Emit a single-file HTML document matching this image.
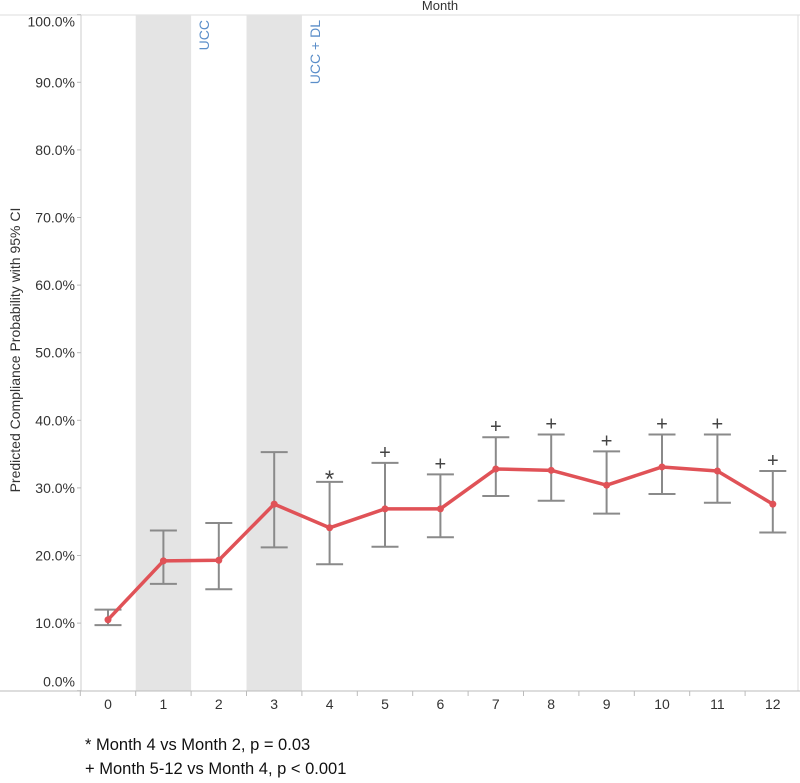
<!DOCTYPE html>
<html><head><meta charset="utf-8"><style>
body{margin:0;background:#fff;font-family:"Liberation Sans",sans-serif}
svg text{font-family:"Liberation Sans",sans-serif}
</style></head><body>
<svg width="800" height="778" xmlns="http://www.w3.org/2000/svg" id="chart">
<text x="440" y="10" font-size="13" fill="#333" text-anchor="middle">Month</text>
<line x1="0" y1="15" x2="800" y2="15" stroke="#ddd"/>
<g id="bands"></g><g id="yaxis"></g><g id="xaxis"></g><g id="series"></g>
<text x="209" y="20" font-size="14" fill="#5b8ec9" transform="rotate(-90 209 20)" text-anchor="end">UCC</text>
<text x="320" y="20" font-size="14" fill="#5b8ec9" transform="rotate(-90 320 20)" text-anchor="end">UCC + DL</text>
<text x="20" y="350" font-size="14" fill="#333" transform="rotate(-90 20 350)" text-anchor="middle">Predicted Compliance Probability with 95% CI</text>
<text x="85" y="750" font-size="16.5" fill="#111">* Month 4 vs Month 2, p = 0.03</text>
<text x="85" y="774" font-size="16.5" fill="#111">+ Month 5-12 vs Month 4, p &lt; 0.001</text>
</svg>
<script>
const months=[0,1,2,3,4,5,6,7,8,9,10,11,12];
const estimates=[10.5,19.2,19.3,27.6,24.1,26.9,26.9,32.8,32.6,30.4,33.1,32.5,27.6];
const lowerCI=[9.7,15.8,15.0,21.2,18.7,21.3,22.7,28.8,28.1,26.2,29.1,27.8,23.4];
const upperCI=[12.0,23.7,24.8,35.3,30.9,33.7,32.0,37.5,37.9,35.4,37.9,37.9,32.5];
const markers=["","","","","*","+","+","+","+","+","+","+","+"];
const yTicks=[0,10,20,30,40,50,60,70,80,90,100];
const shadedMonths=[1,3];
const NS="http://www.w3.org/2000/svg";
const x=i=>108+55.4*i, y=v=>690.7-6.76*v;
function mk(p,t,a){const e=document.createElementNS(NS,t);for(const k in a)e.setAttribute(k,a[k]);p.appendChild(e);return e;}
const bands=document.getElementById('bands'),ya=document.getElementById('yaxis'),xa=document.getElementById('xaxis'),s=document.getElementById('series');
shadedMonths.forEach(m=>{const r=mk(bands,'rect',{x:x(m)-27.7,y:15,width:55.4,height:676,fill:'#e4e4e4'});

});
mk(ya,'line',{x1:81,y1:15,x2:81,y2:691,stroke:'#ccc'});
mk(ya,'line',{x1:798,y1:15,x2:798,y2:691,stroke:'#ddd'});
yTicks.forEach(v=>{mk(ya,'line',{x1:77,x2:81,y1:y(v),y2:y(v),stroke:'#bbb'});
const t=mk(ya,'text',{x:75,y:(v===0?y(v)-4:v===100?y(v)+12:y(v)+5),'font-size':14,fill:'#333','text-anchor':'end'});t.textContent=v.toFixed(1)+'%';

});
mk(xa,'line',{x1:0,y1:691,x2:800,y2:691,stroke:'#bbb'});
months.forEach((m,i)=>{mk(xa,'line',{x1:x(i)-27.7,x2:x(i)-27.7,y1:691,y2:696,stroke:'#bbb'});
const t=mk(xa,'text',{x:x(i),y:709,'font-size':14,fill:'#333','text-anchor':'middle'});t.textContent=m;

});
months.forEach((m,i)=>{const g=mk(s,'g',{stroke:'#8a8a8a','stroke-width':2});


mk(g,'line',{x1:x(i),x2:x(i),y1:y(lowerCI[i]),y2:y(upperCI[i])});
mk(g,'line',{x1:x(i)-13.5,x2:x(i)+13.5,y1:y(lowerCI[i]),y2:y(lowerCI[i])});
mk(g,'line',{x1:x(i)-13.5,x2:x(i)+13.5,y1:y(upperCI[i]),y2:y(upperCI[i])});
if(markers[i]){const t=mk(s,'text',{x:x(i),y:y(upperCI[i])-(markers[i]=='*'?-5:4),'font-size':markers[i]=='*'?24:20,fill:'#444','text-anchor':'middle'});t.textContent=markers[i];

}});
const line=mk(s,'polyline',{points:months.map((m,i)=>x(i)+','+y(estimates[i])).join(' '),fill:'none',stroke:'#e05257','stroke-width':3.5,'stroke-linejoin':'round'});


months.forEach((m,i)=>{const c=mk(s,'circle',{cx:x(i),cy:y(estimates[i]),r:3.5,fill:'#e05257'});

});
</script>
</body></html>
